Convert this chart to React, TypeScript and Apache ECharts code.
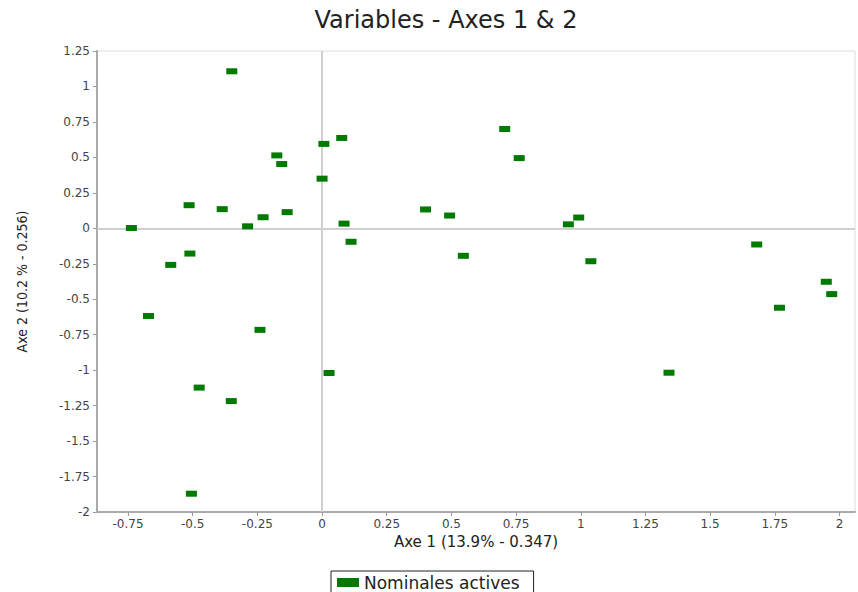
import React, { useEffect, useRef } from "react";
import * as echarts from "echarts";

const seriesName = "Nominales actives";
const xValues = [-0.737, -0.671, -0.585, -0.514, -0.511, -0.505, -0.475, -0.386, -0.349, -0.351, -0.288, -0.24, -0.228, -0.175, -0.156, -0.135, 0.0, 0.007, 0.076, 0.085, 0.112, 0.027, 0.4, 0.493, 0.546, 0.706, 0.762, 0.952, 0.992, 1.039, 1.341, 1.68, 1.768, 1.949, 1.97];
const yValues = [0.002, -0.618, -0.258, 0.163, -0.178, -1.871, -1.123, 0.135, 1.107, -1.218, 0.014, -0.716, 0.078, 0.514, 0.453, 0.114, 0.35, 0.595, 0.637, 0.033, -0.095, -1.02, 0.133, 0.09, -0.194, 0.7, 0.495, 0.028, 0.076, -0.232, -1.018, -0.114, -0.56, -0.377, -0.464];
const xTicks = [-0.75, -0.5, -0.25, 0, 0.25, 0.5, 0.75, 1, 1.25, 1.5, 1.75, 2];
const yTicks = [-2, -1.75, -1.5, -1.25, -1, -0.75, -0.5, -0.25, 0, 0.25, 0.5, 0.75, 1, 1.25];

const FONT = "DejaVu Sans, Verdana, sans-serif";
const GREEN = "#007a00";

export default function App() {
  const ref = useRef<HTMLDivElement>(null);
  useEffect(() => {
    if (!ref.current) return;
    const chart = echarts.init(ref.current, null, { renderer: "svg" });
    const points = xValues.map((x, i) => [x, yValues[i]]);
    chart.setOption({
      animation: false,
      backgroundColor: "#ffffff",
      title: {
        text: "Variables - Axes 1 & 2",
        left: 441,
        textAlign: "center",
        top: 3,
        textStyle: { fontFamily: FONT, fontSize: 24, fontWeight: "normal", color: "#222" },
      },
      legend: {
        data: [seriesName],
        left: 331,
        top: 571,
        icon: "rect",
        itemWidth: 22,
        itemHeight: 9,
        padding: [3, 14, 3, 6],
        borderColor: "#222",
        borderWidth: 1,
        textStyle: { fontFamily: FONT, fontSize: 17, lineHeight: 14, color: "#222" },
      },
      grid: {
        left: 97,
        right: 3,
        top: 51,
        bottom: 80,
        show: true,
        borderColor: "#dddddd",
        borderWidth: 1,
        backgroundColor: "transparent",
      },
      xAxis: {
        type: "value",
        min: -0.87,
        max: 2.06,
        interval: 0.25,
        name: "Axe 1 (13.9% - 0.347)",
        nameLocation: "middle",
        nameGap: 20,
        nameTextStyle: { fontFamily: FONT, fontSize: 15, color: "#222" },
        axisLine: { show: true, onZero: false, lineStyle: { color: "#aaaaaa", width: 2 } },
        axisTick: { show: true, length: 4, customValues: xTicks, lineStyle: { color: "#999" } },
        axisLabel: { customValues: xTicks, fontFamily: FONT, fontSize: 12, color: "#444", margin: 6 },
        splitLine: { show: false },
      },
      yAxis: {
        type: "value",
        min: -2,
        max: 1.25,
        interval: 0.25,
        name: "Axe 2 (10.2 % - 0.256)",
        nameLocation: "middle",
        nameGap: 68,
        nameTextStyle: { fontFamily: "DejaVu Sans Condensed, Liberation Sans Narrow, DejaVu Sans, sans-serif", fontSize: 14, color: "#222" },
        axisLine: { show: true, onZero: false, lineStyle: { color: "#aaaaaa", width: 2 } },
        axisTick: { show: true, length: 4, customValues: yTicks, lineStyle: { color: "#999" } },
        axisLabel: { customValues: yTicks, fontFamily: FONT, fontSize: 12, color: "#444", margin: 7 },
        splitLine: { show: false },
      },
      series: [
        {
          type: "line",
          name: "zero",
          data: [],
          z: 1,
          silent: true,
          markLine: {
            z: 1,
            silent: true,
            symbol: ["none", "none"],
            label: { show: false },
            lineStyle: { color: "#d0d0d0", width: 2, type: "solid" },
            data: [{ xAxis: 0 }, { yAxis: 0 }],
          },
        },
        {
          type: "scatter",
          name: seriesName,
          z: 3,
          symbol: "rect",
          symbolSize: [11, 6],
          itemStyle: { color: GREEN, opacity: 1 },
          data: points,
        },
      ],
    });
    return () => chart.dispose();
  }, []);
  return (
    <div
      ref={ref}
      style={{ position: "fixed", left: 0, top: 0, width: 858, height: 592 }}
    />
  );
}
